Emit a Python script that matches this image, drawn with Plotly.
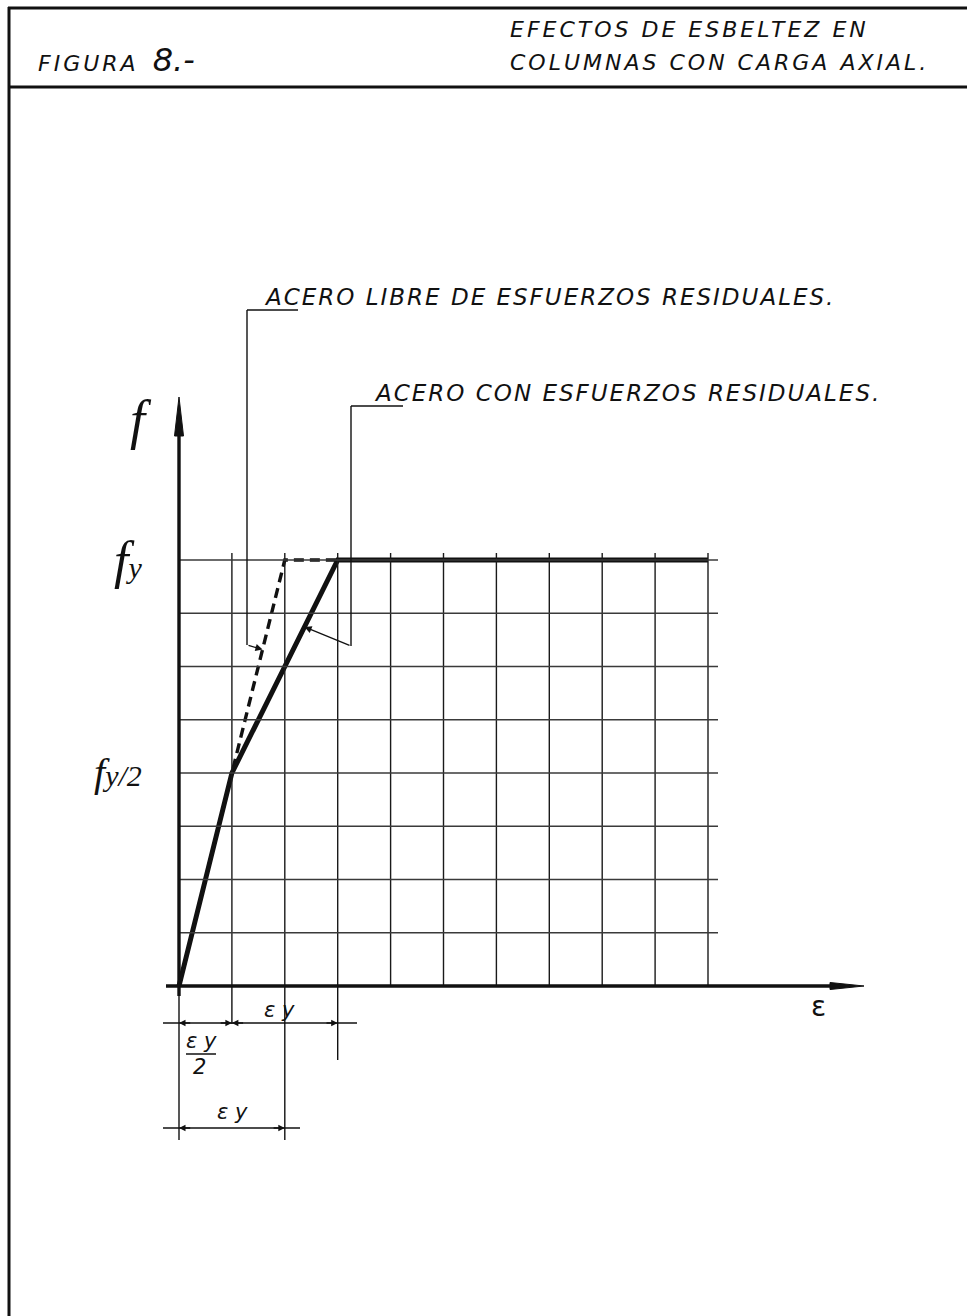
import numpy as np
import plotly.graph_objects as go

# Stress-strain idealisation: strain in units of eps_y, stress in units of f_y
strain_free = [0.0, 1.0, 1.5]
stress_free = [0.0, 1.0, 1.0]
strain_residual = [0.0, 0.5, 1.5, 5.0]
stress_residual = [0.0, 0.5, 1.0, 1.0]

# Reference grid (one cell = eps_y/2 by f_y/8)
grid_strain = [0.5, 1.0, 1.5, 2.0, 2.5, 3.0, 3.5, 4.0, 4.5, 5.0]
grid_stress = [0.125, 0.25, 0.375, 0.5, 0.625, 0.75, 0.875, 1.0]

header_left = "FIGURA"
header_number = "8.-"
header_right = ["EFECTOS DE ESBELTEZ EN", "COLUMNAS CON CARGA AXIAL."]
label_free = "ACERO LIBRE DE ESFUERZOS RESIDUALES."
label_residual = "ACERO CON ESFUERZOS RESIDUALES."

# Sheet geometry (pixels) and the scale of the drawing
W, H = 967, 1316
X0, Y0 = 179.0, 986.0      # origin of the axes
SX, SY = 105.8, 426.0      # pixels per eps_y and per f_y


def dx(px):
    return (px - X0) / SX


def dy(py):
    return (Y0 - py) / SY


def pxp(px):
    return px / W


def pyp(py):
    return 1 - py / H


def spaced(s, px):
    return f"<span style='letter-spacing:{px}px'>{s}</span>"


INK = "#111111"
LETTER = dict(family="DejaVu Sans", size=22, color=INK, style="italic")
SCRIPT = dict(family="Liberation Serif", size=54, color=INK, style="italic")

shapes = []
annotations = []


def seg(x0, y0, x1, y1, width=1.2, color=INK, dash="solid", ref="x"):
    shapes.append(dict(type="line", xref=ref, yref=ref.replace("x", "y"),
                       x0=x0, y0=y0, x1=x1, y1=y1,
                       line=dict(color=color, width=width, dash=dash),
                       layer="above"))


def poly(points, fill=INK, width=1):
    path = "M " + " L ".join(f"{dx(px):.5f},{dy(py):.5f}" for px, py in points) + " Z"
    shapes.append(dict(type="path", xref="x", yref="y", path=path,
                       fillcolor=fill, line=dict(color=fill, width=width),
                       layer="above"))


def arrow(x_head, y_head, x_tail, y_tail, size=1.0, width=1.3):
    annotations.append(dict(x=x_head, y=y_head, ax=x_tail, ay=y_tail,
                            xref="x", yref="y", axref="x", ayref="y",
                            text="", showarrow=True, arrowhead=2,
                            arrowsize=size, arrowwidth=width, arrowcolor=INK))


def text(s, px, py, font, xanchor="center", yanchor="middle"):
    annotations.append(dict(x=dx(px), y=dy(py), xref="x", yref="y", text=s,
                            showarrow=False, font=font,
                            xanchor=xanchor, yanchor=yanchor))


# ---- sheet frame and title block ----
seg(pxp(8), pyp(8), pxp(967), pyp(8), width=3, ref="paper")
seg(pxp(8), pyp(87), pxp(967), pyp(87), width=3, ref="paper")
seg(pxp(9), pyp(7), pxp(9), pyp(1316), width=3, ref="paper")

annotations.append(dict(x=pxp(36), y=pyp(60), xref="paper", yref="paper",
                        text=spaced(header_left, 3) + "  <span style='font-size:32px'>"
                        + header_number + "</span>",
                        showarrow=False, font=LETTER, xanchor="left",
                        yanchor="middle"))
for i, line in enumerate(header_right):
    annotations.append(dict(x=pxp(508), y=pyp(29 + 34 * i), xref="paper",
                            yref="paper", text=spaced(line, 3), showarrow=False,
                            font=LETTER, xanchor="left", yanchor="middle"))

# ---- reference grid ----
x_grid_end = dx(718)
top_over = 7 / SY
for gx in grid_strain:
    seg(gx, 0, gx, 1 + top_over, width=1.4, color="#1a1a1a")
for gy in grid_stress:
    seg(0, gy, x_grid_end, gy, width=1.3, color="#3a3a3a")

# ---- axes with arrowheads ----
seg(dx(166), 0, dx(836), 0, width=3.4)
poly([(830, Y0 - 3.5), (864, Y0), (830, Y0 + 3.5)])
seg(0, dy(996), 0, dy(432), width=3.4)
poly([(X0 - 4.5, 436), (X0, 397), (X0 + 4.5, 436)])

# ---- dimension extension lines below the strain axis ----
seg(0, 0, 0, dy(1140), width=1.4)
seg(grid_strain[0], 0, grid_strain[0], dy(1024), width=1.4)
seg(grid_strain[1], 0, grid_strain[1], dy(1140), width=1.4)
seg(grid_strain[2], 0, grid_strain[2], dy(1060), width=1.4)

# chain dimension eps_y/2 + eps_y
yd1 = dy(1023)
seg(dx(163), yd1, dx(357), yd1, width=1.4)
arrow(0, yd1, 0.12, yd1)
arrow(0.5, yd1, 0.38, yd1)
arrow(0.5, yd1, 0.62, yd1)
arrow(1.5, yd1, 1.38, yd1)
# overall dimension eps_y
yd2 = dy(1128)
seg(dx(163), yd2, dx(300), yd2, width=1.4)
arrow(0, yd2, 0.12, yd2)
arrow(1.0, yd2, 0.88, yd2)

DIM = dict(family="DejaVu Sans", size=21, color=INK, style="italic")
text("ε y", 279, 1010, DIM)
text("ε y", 201, 1041, DIM)
seg(dx(186), dy(1054), dx(216), dy(1054), width=1.5)
text("2", 199, 1067, DIM)
text("ε y", 232, 1112, DIM)

# ---- curves ----
fig = go.Figure()
fig.add_trace(go.Scatter(x=strain_free, y=stress_free, mode="lines",
                         line=dict(color=INK, width=3.4, dash="10px,6px"),
                         hoverinfo="skip", showlegend=False))
fig.add_trace(go.Scatter(x=strain_residual, y=stress_residual, mode="lines",
                         line=dict(color=INK, width=5),
                         hoverinfo="skip", showlegend=False))

# ---- leaders to the two curves ----
tip_free_y = 0.79
tip_free_x = float(np.interp(tip_free_y, stress_free[:2], strain_free[:2]))
seg(dx(298), dy(310), dx(247), dy(310), width=1.4)
seg(dx(247), dy(310), dx(247), dy(645), width=1.4)
arrow(tip_free_x, tip_free_y, dx(247), dy(645), size=1.1)
text(spaced(label_free, 2), 262, 297, dict(LETTER, size=23), xanchor="left")

tip_res_y = 0.843
tip_res_x = float(np.interp(tip_res_y, stress_residual[1:3], strain_residual[1:3]))
seg(dx(403), dy(406), dx(351), dy(406), width=1.4)
seg(dx(351), dy(406), dx(351), dy(646), width=1.4)
arrow(tip_res_x, tip_res_y, dx(351), dy(646), size=1.1)
text(spaced(label_residual, 2), 372, 393, dict(LETTER, size=23), xanchor="left")

# ---- axis labels ----
text("<i>f</i>", 141, 420, SCRIPT)
text("<i>f</i><span style='font-size:30px'><i>y</i></span>", 128, 560,
     dict(SCRIPT, size=52))
text("<i>f</i><span style='font-size:30px'><i>y/2</i></span>", 118, 772,
     dict(SCRIPT, size=40))
text("ε", 818, 1006, dict(family="DejaVu Sans", size=28, color=INK))

fig.update_layout(
    width=W, height=H,
    margin=dict(l=0, r=0, t=0, b=0),
    paper_bgcolor="white", plot_bgcolor="white",
    xaxis=dict(range=[dx(0), dx(W)], visible=False, fixedrange=True),
    yaxis=dict(range=[dy(H), dy(0)], visible=False, fixedrange=True),
    shapes=shapes, annotations=annotations,
    showlegend=False,
)

fig.write_html("out.html")
